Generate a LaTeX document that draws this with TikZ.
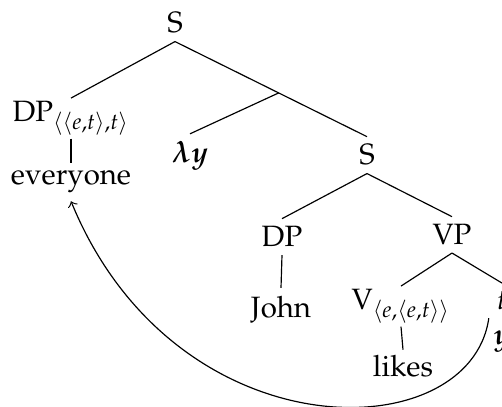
\documentclass[tikz,border=0pt]{standalone}
\usepackage[T1]{fontenc}
\usepackage{mathpazo}
\usepackage{bm}
\usetikzlibrary{calc}
\tikzset{
  cat/.style={anchor=base, inner sep=2.5pt},
  typed/.style={cat, inner ysep=1pt},
  word/.style={cat, inner ysep=1.5pt},
  branch/.style={line width=0.4pt},
  move/.style={->, line width=0.4pt}
}

\begin{document}
\begin{tikzpicture}[x=0.34pt,y=-0.34pt]
  \useasboundingbox (0,0) rectangle (502,407);

  % tree nodes
  \node[cat]   (s0)    at (175,33)  {S};
  \node[typed] (dpq)   at (71,122)  {DP$_{\langle\langle e,t\rangle,t\rangle}$};
  \node[cat]   (every) at (71,185)  {everyone};
  \node[cat]   (ly)    at (190,163) {$\bm{\lambda y}$};
  \node[cat]   (s1)    at (367,165) {S};
  \node[cat]   (dpj)   at (282,247) {DP};
  \node[cat]   (vp)    at (452,245) {VP};
  \node[cat]   (john)  at (281,317) {John};
  \node[typed] (v)     at (401,310) {V$_{\langle e,\langle e,t\rangle\rangle}$};
  \node[word]  (likes) at (403,376) {likes};
  \node[cat]   (t)     at (502,310) {$t$};
  \node[cat]   (ty)    at (502,345) {$\bm{y}$};

  % empty node on the S--S branch
  \coordinate (lam) at ($(s0.south)!0.54!(s1.north)$);

  % branches
  \draw[branch] (s0.south) -- (dpq.north);
  \draw[branch] (s0.south) -- (lam) -- (s1.north);
  \draw[branch] (lam) -- (ly.north);
  \draw[branch] (dpq.south) -- (every.north);
  \draw[branch] (s1.south) -- (dpj.north);
  \draw[branch] (s1.south) -- (vp.north);
  \draw[branch] (dpj.south) -- (john.north);
  \draw[branch] (vp.south) -- (v.north);
  \draw[branch] (vp.south) -- (t.north);
  \draw[branch] (v.south) -- (likes.north);

  % movement
  \draw[move] (t.south west) .. controls (470,450) and (175,455) .. (every.south);
\end{tikzpicture}
\end{document}
